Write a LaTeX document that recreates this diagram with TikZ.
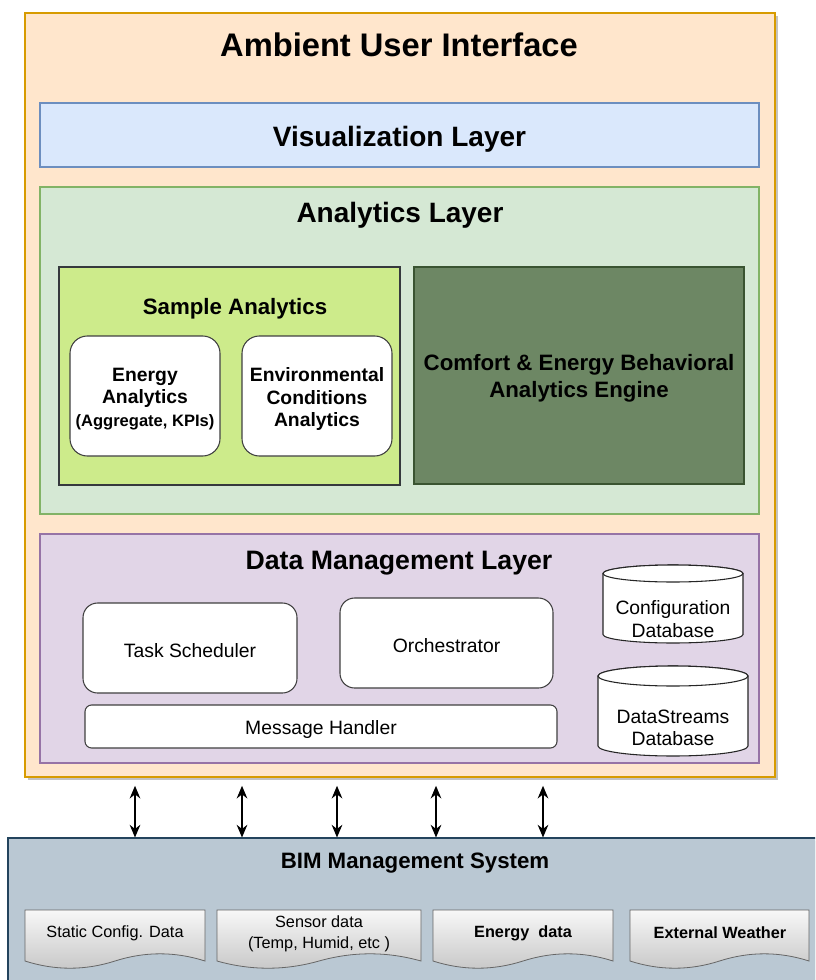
\documentclass[tikz,border=0pt]{standalone}
\usepackage{fontspec}
\setmainfont{Liberation Sans}
\usepackage{xcolor}
\usetikzlibrary{positioning, fit, shadows, arrows.meta}

\definecolor{uiFill}{HTML}{FFE6CC}
\definecolor{uiLine}{HTML}{D79B00}
\definecolor{visFill}{HTML}{DAE8FC}
\definecolor{visLine}{HTML}{6C8EBF}
\definecolor{anaFill}{HTML}{D5E8D4}
\definecolor{anaLine}{HTML}{82B366}
\definecolor{limeFill}{HTML}{CDEB8B}
\definecolor{limeLine}{HTML}{36393D}
\definecolor{engFill}{HTML}{6D8764}
\definecolor{engLine}{HTML}{3A5431}
\definecolor{dmlFill}{HTML}{E1D5E7}
\definecolor{dmlLine}{HTML}{9673A6}
\definecolor{bimFill}{HTML}{BAC8D3}
\definecolor{bimLine}{HTML}{23445D}

\newcommand{\fsz}[2]{\fontsize{#1pt}{#2pt}\selectfont}
\newcommand{\px}{0.75pt}
% database drum: centre x, top y, bottom y, x radius, y radius
\newcommand{\dbdrum}[5]{%
  \draw[dbshape] (#1-#4,#2+#5) -- (#1-#4,#3-#5)
    arc[start angle=180, end angle=0, x radius=#4, y radius=#5]
    -- (#1+#4,#2+#5) arc[start angle=0, end angle=-180, x radius=#4, y radius=#5] -- cycle;
  \draw[dbshape] (#1,#2+#5) ellipse [x radius=#4, y radius=#5];
}

\tikzset{
  plainbox/.style={draw, inner sep=0pt, line width=0.8pt},
  layer/.style={plainbox, fill=#1Fill, draw=#1Line},
  rbox/.style={plainbox, fill=white, draw=black!75, rounded corners=11pt},
  title/.style={font=\bfseries\fsz{#1}{#1}},
  boxtext/.style={align=center, font=\fsz{14.5}{17}, yshift=-2.25pt},
  dbshape/.style={draw=black!85, fill=white, line width=0.8pt},
  docbox/.style={draw=black!60, line width=0.6pt, top color=white!97!black, bottom color=black!22},
  doctext/.style={align=center, font=\fsz{12.2}{15.5}},
  biarrow/.style={{Stealth[length=9.5pt,width=8pt]}-{Stealth[length=9.5pt,width=8pt]}, line width=0.9pt},
  boxshadow/.style={drop shadow={shadow xshift=2.5pt, shadow yshift=-2.5pt, fill=black!40, opacity=0.6}},
}

\begin{document}
\begin{tikzpicture}[x=\px, y=-\px]
\path[use as bounding box, clip] (0,0) rectangle (815,980);

%% ambient user interface
\node[layer=ui, boxshadow, line width=1.2pt, fit={(25,13) (775,777)}] (ui) {};
\node[title=24.5] (uititle) at (399,45) {Ambient User Interface};

%% visualization layer
\node[layer=vis, fit={(40,103) (759,167)}] (vis) {};
\node[title=21, yshift=-3pt] (vistext) at (vis.center) {Visualization Layer};

%% analytics layer
\node[layer=ana, fit={(40,187) (759,514)}] (ana) {};
\node[title=21] (anatitle) at (400,215) {Analytics Layer};

\node[layer=lime, fit={(59,267) (400,485)}] (sample) {};
\node[title=16.7] (sampletitle) at (235,309) {Sample Analytics};
\node[rbox, rounded corners=13pt, fit={(70,336) (220,456)}] (energy) {};
\node[boxtext, font=\bfseries\fsz{14.5}{17}] (energytext) at (energy.center)
  {Energy\\Analytics\\{\fsz{12.4}{17}(Aggregate, KPIs)}};
\node[rbox, rounded corners=13pt, fit={(242,336) (392,456)}] (envir) {};
\node[boxtext, font=\bfseries\fsz{14.5}{17}] (envirtext) at (envir.center)
  {Environmental\\Conditions\\Analytics};

\node[layer=eng, fit={(414,267) (744,484)}] (comfort) {};
\node[boxtext, font=\bfseries\fsz{16.7}{20}] (comforttext) at (comfort.center)
  {Comfort \& Energy Behavioral\\Analytics Engine};

%% data management layer
\node[layer=dml, fit={(40,534) (759,763)}] (dml) {};
\node[title=20] (dmltitle) at (399,563) {Data Management Layer};

\node[rbox, fit={(83,603) (297,693)}] (task) {};
\node[boxtext] (tasktext) at (task.center) {Task Scheduler};
\node[rbox, fit={(340,598) (553,688)}] (orch) {};
\node[boxtext] (orchtext) at (orch.center) {Orchestrator};
\node[rbox, rounded corners=5pt, fit={(85,705) (557,748)}] (msg) {};
\node[boxtext] (msgtext) at (msg.center) {Message Handler};

\dbdrum{673}{565}{643}{70}{8.5}
\node[boxtext] (confdb) at (673,616) {Configuration\\Database};
\dbdrum{673}{666}{756}{75}{10}
\node[boxtext] (streamdb) at (673,725) {DataStreams\\Database};

%% BIM management system
\node[layer=bim, boxshadow, fit={(8,838) (830,1000)}] (bim) {};
\node[title=16.7] (bimtitle) at (415,863) {BIM Management System};

\foreach \xa/\xb in {25/205, 217/421, 433/613, 630/809}
  \draw[docbox] (\xa,910) -- (\xb,910) -- (\xb,961)
    .. controls ({\xb-(\xb-\xa)/6},951.4) and ({\xa+2*(\xb-\xa)/3},951.4) .. ({(\xa+\xb)/2},961)
    .. controls ({\xa+(\xb-\xa)/3},970.6) and ({\xa+(\xb-\xa)/6},970.6) .. (\xa,961) -- cycle;

\node[doctext] (static) at (115,933) {Static Config. Data};
\node[doctext] (sensor) at (319,934) {Sensor data\\(Temp, Humid, etc )};
\node[doctext, font=\bfseries\fsz{12.2}{15.5}] (edata) at (523,933) {Energy\ \ data};
\node[doctext, font=\bfseries\fsz{12.2}{15.5}] (weather) at (720,933) {External Weather};

%% links between interface and BIM
\foreach \ax [count=\i] in {135,242,337,436,543} {
  \coordinate (link\i) at (\ax,0);
  \draw[biarrow, shorten <=6pt] (ui.south -| link\i) -- (bim.north -| link\i);
}
\end{tikzpicture}
\end{document}
